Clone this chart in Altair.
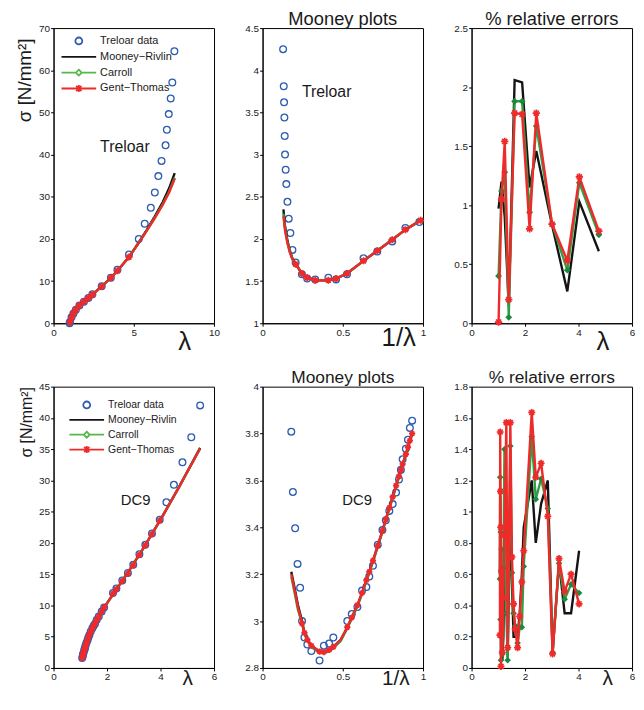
import altair as alt
import pandas as pd

FONT = "Liberation Sans"
BLUE = "#2d5db3"
BLACK = "#141414"
GREEN = "#2f9f45"
GREEN_MK = "#1a8a3c"
RED = "#ee2a2a"
TEXT = "#1a1a1a"

SERIES = ["Treloar data", "Mooney\u2212Rivlin", "Carroll", "Gent\u2212Thomas"]
LEGEND_COLORS = [BLUE, BLACK, "#55b84a", RED]
LEGEND_SHAPES = [
    "M-0.2,0A0.2,0.2 0 1,0 0.2,0A0.2,0.2 0 1,0 -0.2,0Z",
    "M-1,0L1,0",
    "M-1,0L-0.17,0M0.17,0L1,0M0,-0.17L0.17,0L0,0.17L-0.17,0Z",
    "M-1,0L1,0M0,-0.2L0,0.2M-0.15,-0.15L0.15,0.15M-0.15,0.15L0.15,-0.15",
]
STAR = "M-1,0L1,0M0,-1L0,1M-0.7,-0.7L0.7,0.7M-0.7,0.7L0.7,-0.7"

# ---------------- Panel 1 : Treloar, stress vs stretch ----------------
p1_lam = [1.00, 1.02, 1.12, 1.24, 1.39, 1.61, 1.89, 2.17, 2.42, 3.00, 3.57, 3.98, 4.70,
          5.31, 5.68, 6.06, 6.31, 6.53, 6.73, 6.98, 7.06, 7.18, 7.30, 7.40, 7.53]
p1_sig = [0.0, 0.3, 1.4, 2.3, 3.2, 4.2, 5.1, 6.0, 6.9, 8.8, 10.8, 12.7, 16.3,
          20.0, 23.6, 27.4, 31.0, 34.9, 38.5, 42.2, 45.9, 49.6, 53.3, 57.1, 64.5]
p1_curve_lam = [1.00, 1.02, 1.12, 1.24, 1.39, 1.61, 1.89, 2.17, 2.42, 3.00, 3.57, 3.98, 4.70,
                5.30, 5.80, 6.30, 6.80, 7.20, 7.55]
p1_mr = [0.0, 0.25, 1.36, 2.35, 3.26, 4.24, 5.15, 5.99, 6.79, 8.72, 10.79, 12.45, 15.7,
         19.1, 22.1, 25.3, 28.7, 32.0, 35.6]
p1_ca = [0.0, 0.25, 1.36, 2.35, 3.26, 4.24, 5.15, 5.99, 6.79, 8.72, 10.79, 12.45, 15.7,
         19.0, 21.9, 25.0, 28.2, 31.2, 34.5]
p1_gt = [0.0, 0.25, 1.36, 2.35, 3.26, 4.24, 5.15, 5.99, 6.79, 8.72, 10.79, 12.45, 15.7,
         19.0, 21.9, 24.9, 28.1, 31.0, 34.3]
p1_fit_lam = [1.02, 1.12, 1.24, 1.39, 1.61, 1.89, 2.17, 2.42, 3.00, 3.57, 3.98, 4.70]
p1_fit_sig = [0.25, 1.36, 2.35, 3.26, 4.24, 5.15, 5.99, 6.79, 8.72, 10.79, 12.45, 15.7]
p1_label = ["Treloar"]
p1_label_x = [2.9]
p1_label_y = [41.8]

# ---------------- Panel 2 : Treloar, Mooney plot ----------------
p2_x = [0.128, 0.132, 0.134, 0.136, 0.138, 0.140, 0.144, 0.148, 0.155, 0.163, 0.173, 0.186,
        0.206, 0.245, 0.278, 0.328, 0.410, 0.458, 0.526, 0.629, 0.715, 0.808, 0.890, 0.977]
p2_y = [4.25, 3.81, 3.62, 3.44, 3.22, 3.00, 2.82, 2.65, 2.44, 2.24, 2.07, 1.87,
        1.72, 1.58, 1.53, 1.52, 1.54, 1.52, 1.58, 1.77, 1.85, 1.97, 2.13, 2.20]
p2_curve_x = [0.130, 0.140, 0.155, 0.170, 0.186, 0.206, 0.245, 0.278, 0.328, 0.410, 0.458,
              0.526, 0.629, 0.715, 0.808, 0.890, 0.985]
p2_mr = [2.35, 2.15, 1.98, 1.86, 1.77, 1.71, 1.59, 1.54, 1.51, 1.51, 1.53, 1.59, 1.74, 1.86, 1.99, 2.11, 2.22]
p2_ca = [2.30, 2.12, 1.96, 1.85, 1.76, 1.70, 1.59, 1.54, 1.51, 1.51, 1.53, 1.59, 1.74, 1.86, 1.99, 2.11, 2.22]
p2_gt = [2.27, 2.10, 1.95, 1.84, 1.76, 1.70, 1.59, 1.54, 1.51, 1.51, 1.53, 1.59, 1.74, 1.86, 1.99, 2.11, 2.22]
p2_fit_x = [0.206, 0.245, 0.278, 0.328, 0.410, 0.458, 0.526, 0.629, 0.715, 0.808, 0.890, 0.985]
p2_fit_y = [1.70, 1.59, 1.54, 1.51, 1.51, 1.53, 1.59, 1.74, 1.86, 1.99, 2.11, 2.22]
p2_label = ["Treloar"]
p2_label_x = [0.245]
p2_label_y = [3.745]

# ---------------- Panel 3 : Treloar, relative errors ----------------
p3_lam = [1.01, 1.12, 1.24, 1.39, 1.61, 1.89, 2.17, 2.42, 3.01, 3.58, 4.03, 4.76]
p3_mr = [0.97, 1.20, 0.90, 0.15, 2.06, 2.04, 1.15, 1.46, 0.83, 0.27, 1.03, 0.61]
p3_ca = [0.40, 1.12, 1.28, 0.05, 1.88, 1.88, 0.94, 1.67, 0.84, 0.45, 1.19, 0.75]
p3_gt = [0.01, 1.05, 1.54, 0.20, 1.78, 1.77, 0.80, 1.78, 0.84, 0.53, 1.24, 0.78]

# ---------------- Panel 4 : DC9, stress vs stretch ----------------
p4_lam = [1.07, 1.09, 1.10, 1.12, 1.15, 1.16, 1.18, 1.20, 1.23, 1.27, 1.30, 1.34, 1.39,
          1.45, 1.50, 1.55, 1.61, 1.69, 1.80, 1.89, 2.22, 2.35, 2.57, 2.78, 2.98, 3.21,
          3.43, 3.68, 3.97, 4.22, 4.50, 4.82, 5.15, 5.48]
p4_sig = [1.58, 1.89, 2.14, 2.41, 2.83, 3.04, 3.27, 3.62, 4.03, 4.45, 4.89, 5.29, 5.84,
          6.34, 6.77, 7.09, 7.69, 8.22, 9.03, 9.69, 12.0, 12.7, 14.0, 15.2, 16.5, 18.2,
          19.7, 21.5, 23.7, 26.5, 29.3, 32.9, 36.9, 42.0]
p4_curve_lam = [1.05, 1.13, 1.20, 1.29, 1.40, 1.53, 1.69, 1.88, 2.04, 2.40, 2.74, 3.28, 4.05, 4.70, 5.48]
p4_mr = [1.3, 2.5, 3.6, 4.8, 5.9, 7.05, 8.25, 9.6, 10.6, 12.9, 15.0, 18.6, 24.1, 29.0, 35.2]
p4_ca = [1.3, 2.5, 3.6, 4.8, 5.9, 7.05, 8.25, 9.6, 10.6, 12.9, 15.0, 18.6, 24.1, 29.0, 35.1]
p4_gt = [1.3, 2.5, 3.6, 4.8, 5.9, 7.05, 8.25, 9.6, 10.6, 12.9, 15.0, 18.6, 24.1, 29.0, 35.1]
p4_fit_lam = [1.07, 1.09, 1.10, 1.12, 1.15, 1.16, 1.18, 1.20, 1.23, 1.27, 1.30, 1.34, 1.39,
              1.45, 1.50, 1.55, 1.61, 1.69, 1.80, 1.89, 2.22, 2.35, 2.57, 2.78, 2.98, 3.21,
              3.43, 3.68, 3.97]
p4_fit_sig = [1.58, 1.89, 2.14, 2.41, 2.83, 3.04, 3.27, 3.62, 4.03, 4.45, 4.89, 5.29, 5.84,
              6.34, 6.77, 7.09, 7.69, 8.22, 9.03, 9.69, 11.9, 12.6, 13.9, 15.1, 16.4, 18.1,
              19.6, 21.4, 23.6]
p4_label = ["DC9"]
p4_label_x = [2.51]
p4_label_y = [26.9]

# ---------------- Panel 5 : DC9, Mooney plot ----------------
p5_x = [0.179, 0.189, 0.203, 0.218, 0.234, 0.246, 0.261, 0.279, 0.304, 0.355, 0.382, 0.415,
        0.441, 0.528, 0.556, 0.591, 0.620, 0.647, 0.665, 0.688, 0.718, 0.747, 0.768, 0.790,
        0.811, 0.832, 0.850, 0.862, 0.873, 0.893, 0.906, 0.918, 0.932]
p5_y = [3.808, 3.551, 3.396, 3.244, 3.142, 3.000, 2.930, 2.900, 2.872, 2.832, 2.895, 2.904,
        2.930, 3.000, 3.030, 3.060, 3.130, 3.145, 3.190, 3.236, 3.326, 3.388, 3.430, 3.470,
        3.499, 3.548, 3.604, 3.645, 3.690, 3.735, 3.774, 3.824, 3.855]
p5_curve_x = [0.179, 0.200, 0.220, 0.246, 0.261, 0.279, 0.304, 0.355, 0.382, 0.415, 0.441,
              0.487, 0.528, 0.556, 0.591, 0.620, 0.647, 0.665, 0.688, 0.718, 0.747, 0.768,
              0.790, 0.811, 0.832, 0.850, 0.862, 0.873, 0.893, 0.906, 0.918, 0.932]
p5_mr = [3.21, 3.14, 3.07, 3.00, 2.95, 2.92, 2.895, 2.87, 2.868, 2.877, 2.89, 2.92, 2.974,
         3.015, 3.068, 3.12, 3.175, 3.21, 3.258, 3.322, 3.385, 3.434, 3.483, 3.53, 3.578,
         3.618, 3.645, 3.67, 3.712, 3.742, 3.77, 3.80]
p5_ca = [3.19, 3.12, 3.05, 2.99, 2.945, 2.915, 2.89, 2.865, 2.863, 2.872, 2.885, 2.915, 2.97,
         3.01, 3.063, 3.115, 3.17, 3.205, 3.253, 3.317, 3.38, 3.43, 3.478, 3.525, 3.573,
         3.613, 3.64, 3.665, 3.707, 3.737, 3.765, 3.795]
p5_gt = [3.20, 3.13, 3.06, 2.99, 2.95, 2.92, 2.895, 2.87, 2.868, 2.877, 2.89, 2.92, 2.974,
         3.015, 3.068, 3.12, 3.175, 3.21, 3.258, 3.322, 3.385, 3.434, 3.483, 3.53, 3.578,
         3.618, 3.645, 3.67, 3.712, 3.742, 3.77, 3.80]
p5_fit_x = [0.246, 0.261, 0.279, 0.304, 0.355, 0.382, 0.415, 0.441, 0.528, 0.556, 0.591,
            0.620, 0.647, 0.665, 0.688, 0.718, 0.747, 0.768, 0.790, 0.811, 0.832, 0.850,
            0.862, 0.873, 0.893, 0.906, 0.918, 0.932]
p5_fit_y = [2.99, 2.95, 2.92, 2.895, 2.87, 2.868, 2.877, 2.89, 2.974, 3.015, 3.068, 3.12,
            3.175, 3.21, 3.258, 3.322, 3.385, 3.434, 3.483, 3.53, 3.578, 3.618, 3.645,
            3.67, 3.712, 3.742, 3.77, 3.80]
p5_label = ["DC9"]
p5_label_x = [0.497]
p5_label_y = [3.517]

# ---------------- Panel 6 : DC9, relative errors ----------------
p6_lam = [1.06, 1.07, 1.08, 1.09, 1.10, 1.12, 1.15, 1.19, 1.23, 1.30, 1.35, 1.45, 1.51, 1.57,
          1.63, 1.72, 1.80, 1.88, 1.95, 2.25, 2.40, 2.60, 2.85, 3.03, 3.27, 3.48, 3.72, 4.02]
p6_mr = [0.60, 1.10, 0.40, 0.80, 0.10, 0.60, 0.05, 0.20, 0.95, 0.60, 0.07, 1.00, 0.55, 0.20,
         0.20, 0.20, 0.35, 0.60, 0.90, 1.20, 0.80, 1.05, 1.20, 0.10, 0.68, 0.35, 0.35, 0.75]
p6_ca = [0.57, 1.22, 0.31, 0.87, 0.05, 0.76, 0.09, 0.64, 1.40, 0.35, 0.05, 1.42, 0.61, 0.35,
         0.27, 0.16, 0.26, 0.26, 0.65, 1.48, 1.08, 1.21, 1.02, 0.10, 0.67, 0.44, 0.535, 0.48]
p6_gt = [0.21, 1.51, 1.13, 0.90, 0.01, 0.62, 0.10, 0.45, 0.85, 1.57, 0.13, 1.57, 0.71, 0.41,
         0.25, 0.13, 0.33, 0.55, 0.75, 1.635, 1.22, 1.31, 0.97, 0.09, 0.70, 0.49, 0.60, 0.41]


def frame(x, y):
    return pd.DataFrame({"x": x, "y": y})


def encodings(xdom, ydom, xvals, yvals, xtitle, xt_x, xt_y, xt_size,
              ytitle=None, yt_x=0, yt_y=0, yt_size=18):
    xa = alt.Axis(values=xvals, format=".6~g", titleFontSize=xt_size, titleX=xt_x, titleY=xt_y,
                  titleAlign="center", titleBaseline="alphabetic", titleFont=FONT,
                  titleFontWeight="normal", titleColor=TEXT)
    X = alt.X("x:Q", scale=alt.Scale(domain=xdom, nice=False, zero=False), axis=xa, title=xtitle)
    if ytitle:
        ya = alt.Axis(values=yvals, format=".6~g", titleFontSize=yt_size, titleX=yt_x, titleY=yt_y,
                      titleAngle=270, titleAlign="right", titleBaseline="alphabetic",
                      titleFont=FONT, titleFontWeight="normal", titleColor=TEXT)
        Y = alt.Y("y:Q", scale=alt.Scale(domain=ydom, nice=False, zero=False), axis=ya, title=ytitle)
    else:
        ya = alt.Axis(values=yvals, format=".6~g")
        Y = alt.Y("y:Q", scale=alt.Scale(domain=ydom, nice=False, zero=False), axis=ya, title=None)
    return X, Y


def circles(x, y, X, Y):
    return alt.Chart(frame(x, y)).mark_point(
        shape="circle", filled=False, color=BLUE, size=46, strokeWidth=1.3, opacity=1
    ).encode(x=X, y=Y)


def line(x, y, X, Y, color, width=2.4):
    return alt.Chart(frame(x, y)).mark_line(color=color, strokeWidth=width).encode(x=X, y=Y)


def diamonds(x, y, X, Y, size=40):
    return alt.Chart(frame(x, y)).mark_point(
        shape="diamond", filled=True, color=GREEN_MK, size=size, opacity=1
    ).encode(x=X, y=Y)


def stars(x, y, X, Y, size=50):
    return alt.Chart(frame(x, y)).mark_point(
        shape=STAR, filled=False, color=RED, size=size, strokeWidth=1.7, opacity=1
    ).encode(x=X, y=Y)


def label(xs, ys, texts, X, Y, size):
    df = pd.DataFrame({"x": xs, "y": ys, "t": texts})
    return alt.Chart(df).mark_text(
        align="left", baseline="middle", font=FONT, fontSize=size, color=TEXT
    ).encode(x=X, y=Y, text="t:N")


def legend_layer(lx, ly, fsize, clip_h):
    leg = alt.Legend(title=None, orient="none", legendX=lx, legendY=ly, labelFont=FONT,
                     labelFontSize=fsize, labelColor=TEXT, symbolSize=1225,
                     symbolStrokeWidth=1.8, clipHeight=clip_h, rowPadding=2,
                     labelOffset=3, padding=0)
    return alt.Chart(pd.DataFrame({"series": SERIES})).mark_point(
        filled=False, clip=True, opacity=1
    ).encode(
        x=alt.value(-400), y=alt.value(-400),
        color=alt.Color("series:N", scale=alt.Scale(domain=SERIES, range=LEGEND_COLORS), legend=leg),
        shape=alt.Shape("series:N", scale=alt.Scale(domain=SERIES, range=LEGEND_SHAPES), legend=leg),
    )


def title(text, size):
    return alt.TitleParams(text=text, fontSize=size, font=FONT, fontWeight="normal",
                           offset=-5, color=TEXT, anchor="middle", frame="group")


W1, H1 = 162, 298
W2, H2 = 162, 284

# Panel 1
X, Y = encodings([0, 10], [0, 70], [0, 5, 10], [0, 10, 20, 30, 40, 50, 60, 70],
                 "\u03bb", 132, 26, 26, "\u03c3 [N/mm\u00b2]", -23, 10, 19)
panel1 = alt.layer(
    circles(p1_lam, p1_sig, X, Y),
    line(p1_curve_lam, p1_mr, X, Y, BLACK),
    line(p1_curve_lam, p1_ca, X, Y, GREEN),
    diamonds(p1_fit_lam, p1_fit_sig, X, Y),
    line(p1_curve_lam, p1_gt, X, Y, RED),
    stars(p1_fit_lam, p1_fit_sig, X, Y),
    label(p1_label_x, p1_label_y, p1_label, X, Y, 16),
    legend_layer(7, 6, 11, 14),
).properties(width=W1, height=H1)

# Panel 2
X, Y = encodings([0, 1], [1, 4.5], [0, 0.5, 1], [1, 1.5, 2, 2.5, 3, 3.5, 4, 4.5],
                 "1/\u03bb", 137, 22, 26)
panel2 = alt.layer(
    circles(p2_x, p2_y, X, Y),
    line(p2_curve_x, p2_mr, X, Y, BLACK),
    line(p2_curve_x, p2_ca, X, Y, GREEN),
    diamonds(p2_fit_x, p2_fit_y, X, Y),
    line(p2_curve_x, p2_gt, X, Y, RED),
    stars(p2_fit_x, p2_fit_y, X, Y),
    label(p2_label_x, p2_label_y, p2_label, X, Y, 16),
).properties(width=W1, height=H1, title=title("Mooney plots", 18.5))

# Panel 3
X, Y = encodings([0, 6], [0, 2.5], [0, 2, 4, 6], [0, 0.5, 1, 1.5, 2, 2.5],
                 "\u03bb", 132, 26, 26)
panel3 = alt.layer(
    line(p3_lam, p3_mr, X, Y, BLACK),
    line(p3_lam, p3_ca, X, Y, GREEN),
    diamonds(p3_lam, p3_ca, X, Y, 48),
    line(p3_lam, p3_gt, X, Y, RED),
    stars(p3_lam, p3_gt, X, Y, 55),
).properties(width=W1, height=H1, title=title("% relative errors", 18.5))

# Panel 4
X, Y = encodings([0, 6], [0, 45], [0, 2, 4, 6], [0, 5, 10, 15, 20, 25, 30, 35, 40, 45],
                 "\u03bb", 135, 17, 21, "\u03c3 [N/mm\u00b2]", -22, 0, 16)
panel4 = alt.layer(
    circles(p4_lam, p4_sig, X, Y),
    line(p4_curve_lam, p4_mr, X, Y, BLACK),
    line(p4_curve_lam, p4_ca, X, Y, GREEN),
    diamonds(p4_fit_lam, p4_fit_sig, X, Y, 30),
    line(p4_curve_lam, p4_gt, X, Y, RED),
    stars(p4_fit_lam, p4_fit_sig, X, Y, 40),
    label(p4_label_x, p4_label_y, p4_label, X, Y, 15),
    legend_layer(15, 12, 10.5, 13),
).properties(width=W2, height=H2)

# Panel 5
X, Y = encodings([0, 1], [2.8, 4], [0, 0.5, 1], [2.8, 3, 3.2, 3.4, 3.6, 3.8, 4],
                 "1/\u03bb", 134, 17, 21)
panel5 = alt.layer(
    circles(p5_x, p5_y, X, Y),
    line(p5_curve_x, p5_mr, X, Y, BLACK),
    line(p5_curve_x, p5_ca, X, Y, GREEN),
    diamonds(p5_fit_x, p5_fit_y, X, Y, 30),
    line(p5_curve_x, p5_gt, X, Y, RED),
    stars(p5_fit_x, p5_fit_y, X, Y, 40),
    label(p5_label_x, p5_label_y, p5_label, X, Y, 15),
).properties(width=W2, height=H2, title=title("Mooney plots", 17.5))

# Panel 6
X, Y = encodings([0, 6], [0, 1.8], [0, 2, 4, 6], [0, 0.2, 0.4, 0.6, 0.8, 1, 1.2, 1.4, 1.6, 1.8],
                 "\u03bb", 137, 17, 21)
panel6 = alt.layer(
    line(p6_lam, p6_mr, X, Y, BLACK),
    line(p6_lam, p6_ca, X, Y, GREEN),
    diamonds(p6_lam, p6_ca, X, Y, 44),
    line(p6_lam, p6_gt, X, Y, RED),
    stars(p6_lam, p6_gt, X, Y, 50),
).properties(width=W2, height=H2, title=title("% relative errors", 17.5))

chart = alt.concat(
    panel1, panel2, panel3, panel4, panel5, panel6,
    columns=3, spacing={"row": 64, "column": 49}, bounds="flush"
).resolve_scale(
    color="independent", shape="independent"
).properties(
    padding={"left": 7, "top": -2, "right": 0, "bottom": 0}
).configure_view(
    stroke="black", strokeWidth=1
).configure_axis(
    grid=False, labelFont=FONT, labelFontSize=10, labelColor="#222222",
    tickColor="black", domainColor="black", tickSize=3, labelPadding=1,
    domainWidth=1, tickWidth=1, labelFlush=False, labelOverlap=False
)

chart.save("out.html", embed_options={"renderer": "svg", "actions": False})
